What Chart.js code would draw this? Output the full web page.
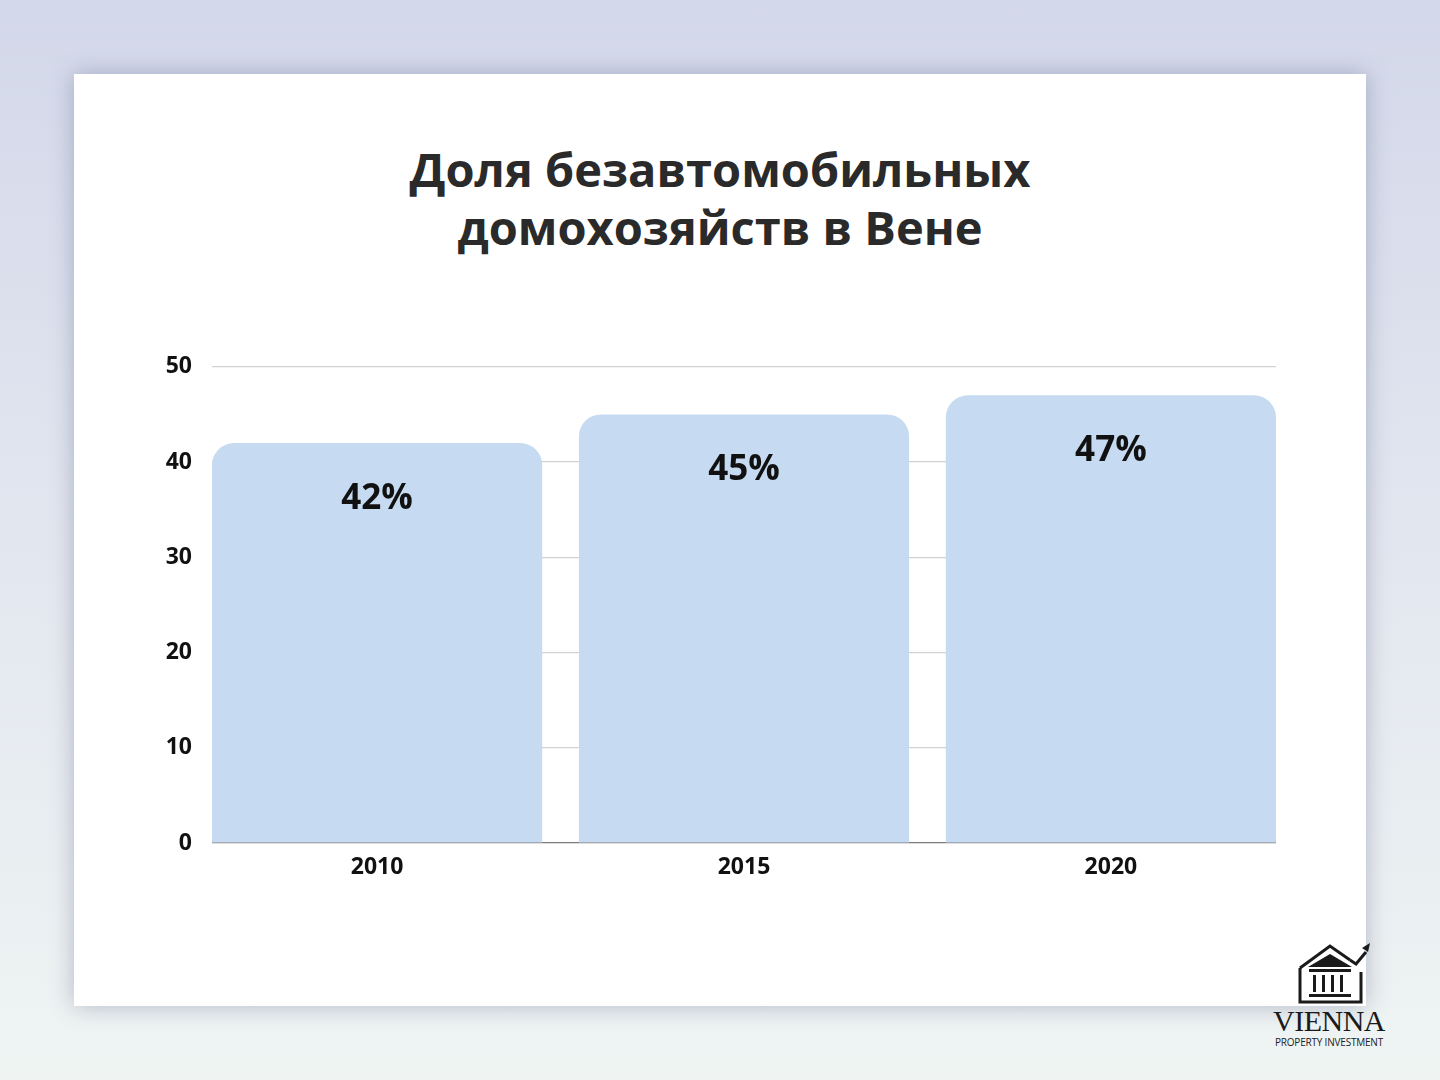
<!DOCTYPE html>
<html>
<head>
<meta charset="utf-8">
<script src="https://cdn.jsdelivr.net/npm/chart.js@4/dist/chart.umd.min.js"></script>
<style>
  html, body { margin: 0; padding: 0; }
  body {
    width: 1440px; height: 1080px; position: relative; overflow: hidden;
    background: linear-gradient(to bottom, #d3d8ea 0%, #e4e8f0 55%, #eff4f3 100%);
    font-family: "Open Sans", "Noto Sans", sans-serif;
  }
  #card {
    position: absolute; left: 74px; top: 74px; width: 1292px; height: 932px;
    background: #fff; box-shadow: 0 0 22px rgba(70, 80, 120, 0.35);
  }
  #title {
    position: absolute; left: 0; top: 140px; width: 1440px; text-align: center;
    font-weight: 700; font-size: 47px; line-height: 58px; color: #2a2a2a;
  }
  #wrap { position: absolute; left: 140px; top: 333px; width: 1150px; height: 567px; }
  #logo { position: absolute; left: 1266px; top: 938px; width: 126px; }
  #logo .name {
    position: absolute; left: 0; top: 68px; width: 126px; text-align: center;
    font-family: "Liberation Serif", "DejaVu Serif", serif; font-size: 30px; line-height: 30px;
    color: #1a1a1a; letter-spacing: -0.5px;
  }
  #logo .sub {
    position: absolute; left: 0; top: 99px; width: 126px; text-align: center;
    font-size: 10px; line-height: 10px; color: #222; white-space: nowrap; letter-spacing: -0.2px;
  }
</style>
</head>
<body>
<div id="card"></div>
<div id="title">Доля безавтомобильных<br>домохозяйств в Вене</div>
<div id="wrap"><canvas id="chart"></canvas></div>
<div id="logo">
  <svg width="126" height="68" viewBox="0 0 126 68">
    <g fill="none" stroke="#1a1a1a" stroke-width="3">
      <polyline points="34,30 34,64 95,64 95,34" />
      <polyline points="34,30 64,8 84,22" />
      <polyline points="84,22 90,26 100,14" />
    </g>
    <polygon points="96,10 104,5 102,14" fill="#1a1a1a" />
    <polygon points="42,29 64,16 86,29" fill="#1a1a1a" />
    <rect x="43" y="31" width="42" height="3" fill="#1a1a1a" />
    <rect x="47" y="37" width="3" height="17" fill="#1a1a1a" />
    <rect x="56" y="37" width="3" height="17" fill="#1a1a1a" />
    <rect x="65" y="37" width="3" height="17" fill="#1a1a1a" />
    <rect x="74" y="37" width="3" height="17" fill="#1a1a1a" />
    <rect x="43" y="56" width="42" height="3" fill="#1a1a1a" />
  </svg>
  <div class="name">VIENNA</div>
  <div class="sub">PROPERTY INVESTMENT</div>
</div>
<script>
  const years = ['2010', '2015', '2020'];
  const shares = [42, 45, 47];
  const valueLabels = ['42%', '45%', '47%'];
  const yTicks = [0, 10, 20, 30, 40, 50];

  const tickFont = { family: '"Open Sans", "Noto Sans", sans-serif', size: 23, weight: '700' };

  const points = years.map((y, i) => ({ x: i, y: shares[i] }));

  const barLabels = {
    id: 'barLabels',
    afterDatasetsDraw(chart) {
      const ctx = chart.ctx;
      const meta = chart.getDatasetMeta(0);
      ctx.save();
      ctx.font = '700 35px "Open Sans", "Noto Sans", sans-serif';
      ctx.fillStyle = '#111';
      ctx.textAlign = 'center';
      ctx.textBaseline = 'middle';
      meta.data.forEach(function (bar, i) {
        ctx.fillText(valueLabels[i], bar.x, bar.y + 56);
      });
      ctx.restore();
    },
  };

  new Chart(document.getElementById('chart').getContext('2d'), {
    type: 'bar',
    data: {
      datasets: [{
        data: points,
        backgroundColor: '#c6dbf1',
        borderRadius: { topLeft: 22, topRight: 22, bottomLeft: 0, bottomRight: 0 },
        borderSkipped: 'bottom',
        categoryPercentage: 1,
        barPercentage: 0.9,
      }],
    },
    options: {
      responsive: true,
      maintainAspectRatio: false,
      animation: false,
      layout: { padding: { top: 21, right: 14, left: 0, bottom: 0 } },
      plugins: { legend: { display: false }, tooltip: { enabled: false } },
      scales: {
        x: {
          type: 'linear',
          offset: false,
          min: -0.45,
          max: 2.45,
          afterBuildTicks(scale) { scale.ticks = years.map((y, i) => ({ value: i })); },
          grid: { display: false, offset: false },
          border: { display: false },
          ticks: { color: '#111', font: tickFont, padding: 3, callback: (v) => years[v] },
          afterFit(scale) { scale.height = 57; },
        },
        y: {
          min: 0,
          max: 50,
          afterBuildTicks(scale) { scale.ticks = yTicks.map((v) => ({ value: v })); },
          grid: {
            color: (c) => (c.tick && c.tick.value === 0 ? '#7a7a7a' : '#d2d2d2'),
            drawTicks: false,
            lineWidth: 1.2,
          },
          border: { display: false },
          ticks: { color: '#111', font: tickFont, padding: 20 },
          afterFit(scale) { scale.width = 72; },
        },
      },
    },
    plugins: [barLabels],
  });
</script>
</body>
</html>
